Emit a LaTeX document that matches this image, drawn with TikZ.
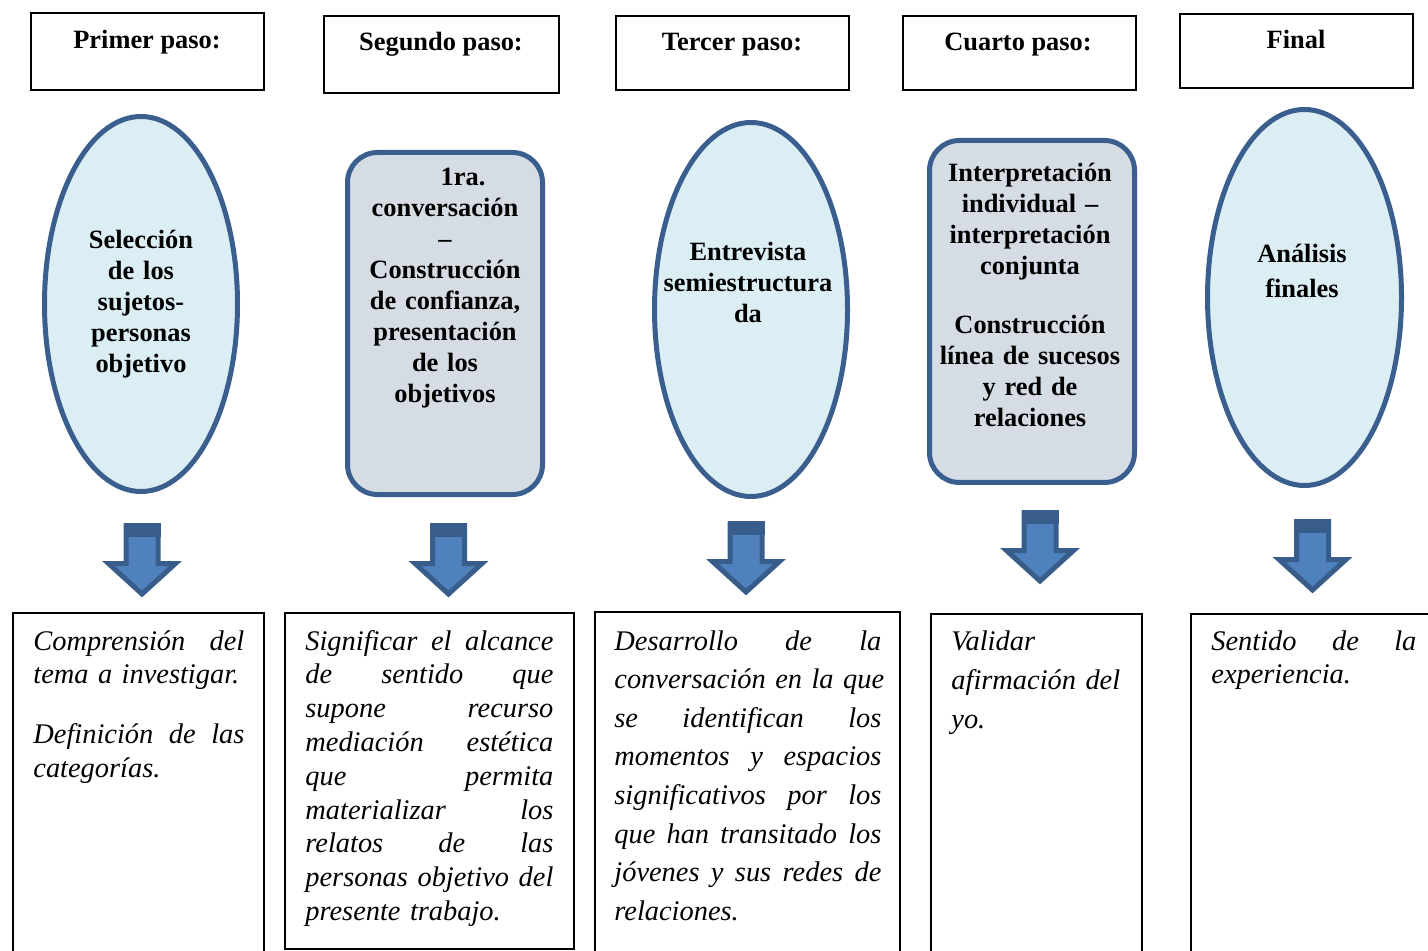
\documentclass[tikz,border=0pt]{standalone}
\usepackage{fontspec}
\setmainfont{Liberation Serif}
\usetikzlibrary{shapes.geometric}
\definecolor{shapeline}{HTML}{3A5F8E}
\definecolor{ellfill}{HTML}{DBEEF4}
\definecolor{boxfill}{HTML}{D5DCE4}
\definecolor{arrfill}{HTML}{4F81BD}
\definecolor{arrline}{HTML}{385D8A}
\newcommand{\jg}{~\hspace{0pt plus 1fill}}
\tikzset{
  hdr/.style={draw=black, line width=1pt, minimum width=116.5pt, minimum height=38.5pt, inner sep=0pt},
  hdrtxt/.style={font=\fontsize{13.2pt}{15.5pt}\selectfont\bfseries, anchor=base, inner sep=0pt},
  ell/.style={ellipse, draw=shapeline, fill=ellfill, line width=2.5pt, inner sep=0pt},
  rbox/.style={rectangle, rounded corners=15pt, draw=shapeline, fill=boxfill, line width=2.5pt, inner sep=0pt},
  shtxt/.style={font=\fontsize{13.2pt}{15.5pt}\selectfont\bfseries, align=center, text width=100pt, anchor=base, inner sep=0pt},
  outbox/.style={draw=black, line width=1pt, inner sep=0pt},
  outtxt/.style={font=\fontsize{14.2pt}{16.9pt}\selectfont\itshape, align=left, anchor=base west, inner sep=0pt},
  downarrow/.pic={
    \draw[draw=arrline, fill=arrfill, line width=2.5pt, miter limit=10]
      (-16,3) -- (16,3) -- (16,40.5) -- (33.5,40.5) -- (0,71) -- (-33.5,40.5) -- (-16,40.5) -- cycle;
    \fill[arrline] (-18.5,0) rectangle (18.5,14);
  }
}
\begin{document}
\begin{tikzpicture}[x=0.5pt,y=-0.5pt]
\useasboundingbox (0,0) rectangle (1428,951);
\clip (0,0) rectangle (1428,951);

% header boxes
\node[hdr] (h1) at (147.5,51.5) {};
\node[hdr, minimum width=117.5pt] (h2) at (441.5,54.5) {};
\node[hdr, minimum height=37pt] (h3) at (732,53) {};
\node[hdr, minimum height=37pt] (h4) at (1019,53) {};
\node[hdr, minimum height=37pt] (h5) at (1296,51) {};
\node[hdrtxt] (ht1) at (147,49) {Primer paso:};
\node[hdrtxt] (ht2) at (441,51) {Segundo paso:};
\node[hdrtxt] (ht3) at (732,51) {Tercer paso:};
\node[hdrtxt] (ht4) at (1018,51) {Cuarto paso:};
\node[hdrtxt] (ht5) at (1296,49) {Final};

% middle shapes
\node[ell, minimum width=96.5pt, minimum height=187.5pt] (s1) at (141,304) {};
\node[rbox, minimum width=97.5pt, minimum height=171pt] (s2) at (445,323.5) {};
\node[ell, minimum width=96.5pt, minimum height=187pt] (s3) at (751,309.5) {};
\node[rbox, minimum width=102.5pt, minimum height=171pt] (s4) at (1032,311.5) {};
\node[ell, minimum width=97pt, minimum height=188pt] (s5) at (1304.5,297.5) {};

\node[shtxt] (st1) at (141,249) {Selección\\de los\\sujetos-\\personas\\objetivo};
\node[shtxt] (st2) at (445,186) {\hspace*{18pt}1ra.\\conversación\\–\\Construcción\\de confianza,\\presentación\\de los\\objetivos};
\node[shtxt] (st3) at (748,261) {Entrevista\\semiestructura\\da};
\node[shtxt] (st4) at (1030,182) {Interpretación\\individual –\\interpretación\\conjunta\\[14pt]Construcción\\línea de sucesos\\y red de\\relaciones};
\node[shtxt] (st5) at (1302,263) {Análisis\\[2pt]finales};

% block arrows
\pic (a1) at (142,523) {downarrow};
\pic (a2) at (448.5,523) {downarrow};
\pic (a3) at (746,521) {downarrow};
\pic (a4) at (1040,510) {downarrow};
\pic (a5) at (1312.5,519) {downarrow};

% bottom boxes
\node[outbox, minimum width=125.5pt, minimum height=183.5pt] (b1) at (138.5,796.5) {};
\node[outbox, minimum width=144.5pt, minimum height=168pt] (b2) at (429.5,781) {};
\node[outbox, minimum width=152.5pt, minimum height=184pt] (b3) at (747.5,796) {};
\node[outbox, minimum width=105.5pt, minimum height=183pt] (b4) at (1036.5,797) {};
\node[outbox, minimum width=129.5pt, minimum height=183pt] (b5) at (1320.5,797) {};

\node[outtxt, text width=105.5pt] (bt1) at (33,650)
 {Comprensión\jg del\\
  tema a investigar.\\[13pt]
  Definición\jg de\jg las\\
  categorías.};
\node[outtxt, text width=124pt] (bt2) at (305,650)
 {Significar\jg el\jg alcance\\
  de\jg sentido\jg que\\
  supone\jg recurso\\
  mediación\jg estética\\
  que\jg permita\\
  materializar\jg los\\
  relatos\jg de\jg las\\
  personas\jg objetivo\jg del\\
  presente trabajo.};
\node[outtxt, text width=133.5pt, font=\fontsize{14.2pt}{19.3pt}\selectfont\itshape] (bt3) at (614,650)
 {Desarrollo\jg de\jg la\\
  conversación\jg en\jg la\jg que\\
  se\jg identifican\jg los\\
  momentos\jg y\jg espacios\\
  significativos\jg por\jg los\\
  que\jg han\jg transitado\jg los\\
  jóvenes\jg y\jg sus\jg redes\jg de\\
  relaciones.};
\node[outtxt, text width=86pt, font=\fontsize{14.2pt}{19.5pt}\selectfont\itshape] (bt4) at (951,650)
 {Validar\\
  afirmación del\\
  yo.};
\node[outtxt, text width=102.5pt] (bt5) at (1211,650)
 {Sentido\jg de\jg la\\
  experiencia.};
\end{tikzpicture}
\end{document}
